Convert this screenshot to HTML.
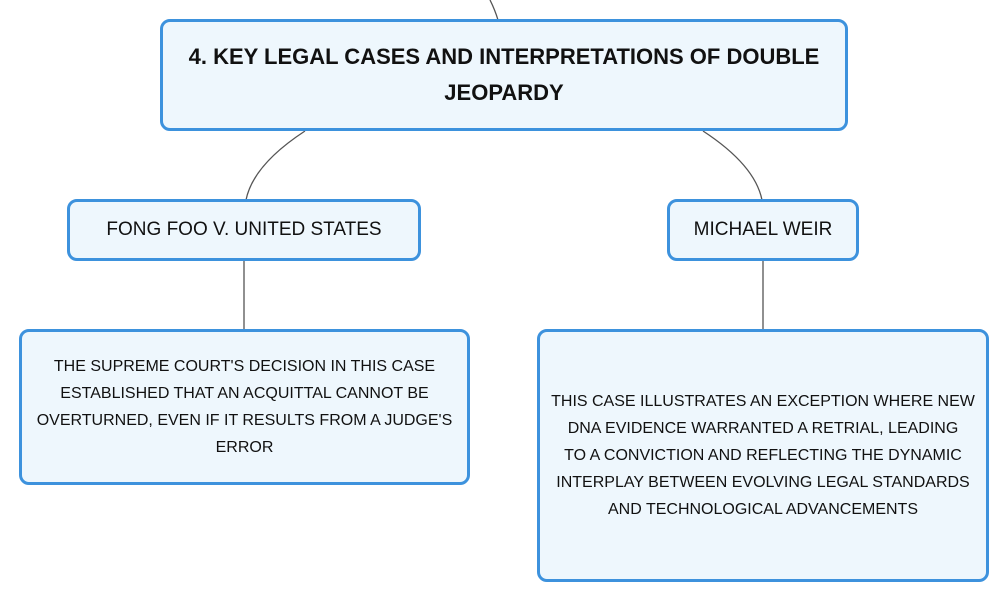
<!DOCTYPE html>
<html><head><style>
body{margin:0;width:1008px;height:602px;background:#fff;position:relative;overflow:hidden;font-family:"Liberation Sans",sans-serif;}
.b{position:absolute;box-sizing:border-box;border:3px solid #3d92dd;border-radius:10px;background:#eef7fd;display:flex;align-items:center;justify-content:center;text-align:center;color:#111;}
</style></head><body>
<svg width="1008" height="602" style="position:absolute;left:0;top:0">
<g fill="none" stroke="#555" stroke-width="1.3">
<path d="M490 0 Q495 10 498 20"/>
<path d="M305 131 Q253 165 246 200"/>
<path d="M703 131 Q755 165 762 200"/>
<path d="M244 261 L244 330"/>
<path d="M763 261 L763 330"/>
</g></svg>
<div class="b" style="left:160px;top:19px;width:688px;height:112px;font-weight:bold;font-size:22px;line-height:36px;padding:0 20px">4. KEY LEGAL CASES AND INTERPRETATIONS OF DOUBLE JEOPARDY</div>
<div class="b" style="left:67px;top:199px;width:354px;height:62px;font-size:19px">FONG FOO V. UNITED STATES</div>
<div class="b" style="left:667px;top:199px;width:192px;height:62px;font-size:19px">MICHAEL WEIR</div>
<div class="b" style="left:19px;top:329px;width:451px;height:156px;font-size:16px;line-height:27px;padding:0 6px">THE SUPREME COURT'S DECISION IN THIS CASE ESTABLISHED THAT AN ACQUITTAL CANNOT BE OVERTURNED, EVEN IF IT RESULTS FROM A JUDGE'S ERROR</div>
<div class="b" style="left:537px;top:329px;width:452px;height:253px;font-size:16px;line-height:27px;padding:0 2px"><div>THIS CASE ILLUSTRATES AN EXCEPTION WHERE NEW<br>DNA EVIDENCE WARRANTED A RETRIAL, LEADING<br>TO A CONVICTION AND REFLECTING THE DYNAMIC<br>INTERPLAY BETWEEN EVOLVING LEGAL STANDARDS<br>AND TECHNOLOGICAL ADVANCEMENTS</div></div>
</body></html>
